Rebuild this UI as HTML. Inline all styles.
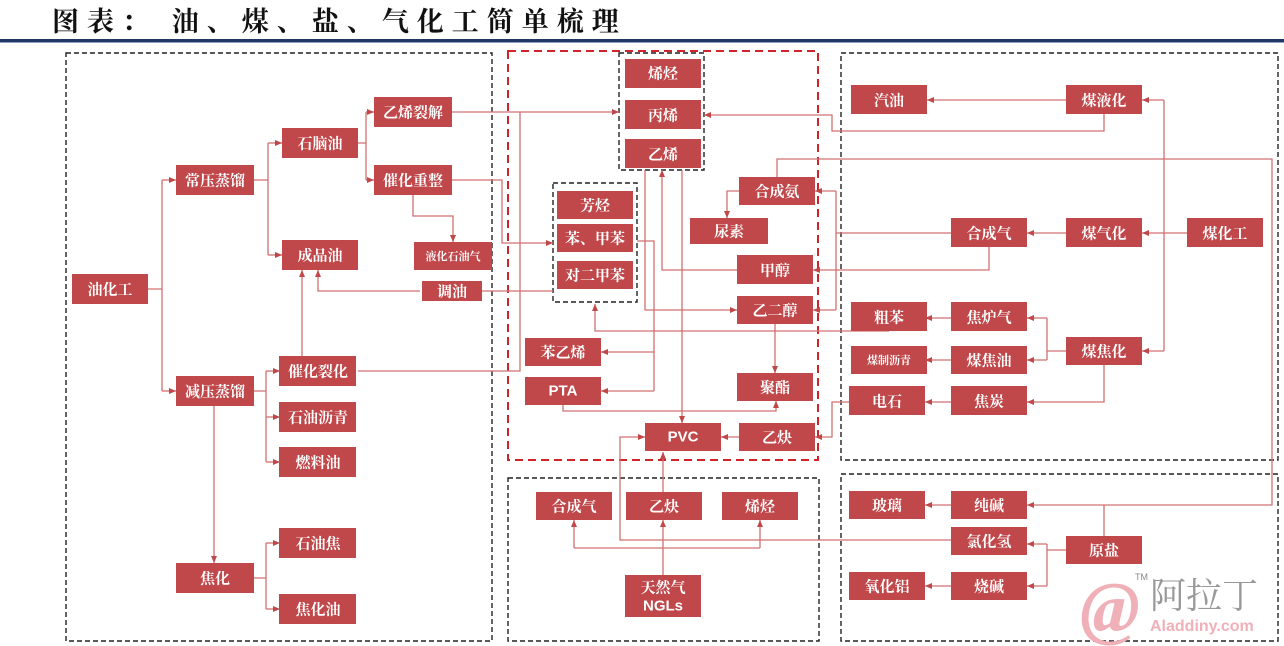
<!DOCTYPE html>
<html><head><meta charset="utf-8"><style>
body{margin:0;background:#fff;width:1284px;height:646px;overflow:hidden}
svg{display:block}
.b{fill:#c0474a}
.t{fill:#fff;font-family:"Noto Serif CJK SC","WenQuanYi Zen Hei",serif;font-weight:bold;font-size:15px;text-anchor:middle;dominant-baseline:central}
.l{fill:none;stroke:#d27070;stroke-width:1.3}
.a{fill:none;stroke:#d27070;stroke-width:1.3;marker-end:url(#ar)}
</style></head><body>
<svg width="1284" height="646" viewBox="0 0 1284 646">
<defs><marker id="ar" markerWidth="8" markerHeight="8" refX="7" refY="4" orient="auto" markerUnits="userSpaceOnUse"><path d="M0,1 L7,4 L0,7z" fill="#c0474a"/></marker></defs>
<text x="52" y="31" font-family="'Noto Serif CJK SC',serif" font-weight="bold" font-size="27" letter-spacing="8" fill="#111">图表： 油、煤、盐、气化工简单梳理</text>
<rect x="0" y="39" width="1284" height="3" fill="#1f3864"/>
<rect x="0" y="42" width="1284" height="1" fill="#8ea0c0"/>
<g fill="none" stroke="#222" stroke-width="1.4" stroke-dasharray="5,3">
<rect x="66" y="53" width="426" height="588"/>
<rect x="841" y="53" width="437" height="407"/>
<rect x="841" y="474" width="437" height="167"/>
<rect x="508" y="478" width="311" height="163"/>
<rect x="619" y="53" width="85" height="117"/>
<rect x="553" y="183" width="84" height="119"/>
</g>
<rect x="508" y="51" width="310" height="409" fill="none" stroke="#d0242a" stroke-width="2" stroke-dasharray="8,5"/>
<path class="l" d="M148,289 H162 M162,180 V391"/>
<path class="a" d="M162,180 H176"/><path class="a" d="M162,391 H176"/>
<path class="l" d="M254,180 H268 M268,143 V255"/>
<path class="a" d="M268,143 H282"/><path class="a" d="M268,255 H282"/>
<path class="l" d="M356,143 H366 M366,112 V180"/>
<path class="a" d="M366,112 H374"/><path class="a" d="M366,180 H374"/>
<path class="a" d="M452,112 H619"/>
<path class="a" d="M452,180 H502 V243 H553"/>
<path class="a" d="M413,195 V216 H453 V242"/>
<path class="a" d="M553,291 H482 M420,291 H318 V270"/>
<path class="a" d="M302,356 V270"/>
<path class="l" d="M358,371 H520 V112"/>
<path class="l" d="M254,391 H266 M266,371 V462"/>
<path class="a" d="M266,371 H280"/><path class="a" d="M266,417 H280"/><path class="a" d="M266,462 H280"/>
<path class="a" d="M214,406 V563"/>
<path class="l" d="M254,578 H266 M266,543 V609"/>
<path class="a" d="M266,543 H280"/><path class="a" d="M266,609 H280"/>
<path class="a" d="M645,170 V310 H737"/>
<path class="a" d="M737,270 H662 V170"/>
<path class="a" d="M682,170 V423"/>
<path class="l" d="M637,241 H654 V391"/>
<path class="a" d="M654,352 H601"/><path class="a" d="M654,391 H601"/>
<path class="a" d="M563,404 V411 H776 V401"/>
<path class="a" d="M775,323 V373"/>
<path class="a" d="M739,437 H721"/>
<path class="a" d="M777,177 V159 H1272 V505 H1027"/>
<path class="a" d="M739,191 H727 V218"/>
<path class="l" d="M951,233 H836 M836,191 V310"/>
<path class="a" d="M836,191 H815"/><path class="a" d="M836,310 H813"/>
<path class="a" d="M989,247 V270 H813"/>
<path class="a" d="M1066,233 H1027"/><path class="a" d="M1187,233 H1142"/>
<path class="l" d="M1164,100 V351"/>
<path class="a" d="M1164,100 H1142"/><path class="a" d="M1164,351 H1142"/>
<path class="a" d="M1066,100 H927"/>
<path class="a" d="M1104,114 V131 H832 V115 H704"/>
<path class="l" d="M1066,351 H1047 M1047,318 V360"/>
<path class="a" d="M1047,318 H1027"/><path class="a" d="M1047,360 H1027"/>
<path class="a" d="M951,318 H925"/><path class="a" d="M951,360 H925"/>
<path class="a" d="M889,331 H595 V304"/>
<path class="a" d="M1104,365 V402 H1027"/>
<path class="a" d="M951,402 H925"/>
<path class="a" d="M849,402 H832 V437 H815"/>
<path class="l" d="M1104,536 V505"/>
<path class="l" d="M1066,550 H1047 M1047,544 V586"/>
<path class="a" d="M1047,544 H1027"/><path class="a" d="M1047,586 H1027"/>
<path class="a" d="M951,505 H925"/><path class="a" d="M951,586 H925"/>
<path class="a" d="M951,540 H620 V437 H645"/>
<path class="a" d="M663,492 V452"/>
<path class="a" d="M663,575 V520"/>
<path class="l" d="M574,548 H760"/>
<path class="a" d="M574,548 V520"/><path class="a" d="M760,548 V520"/>
<g>
<rect class="b" x="72" y="274" width="76" height="30"/><text class="t" x="110" y="289">油化工</text>
<rect class="b" x="176" y="165" width="78" height="30"/><text class="t" x="215" y="180">常压蒸馏</text>
<rect class="b" x="176" y="376" width="78" height="30"/><text class="t" x="215" y="391">减压蒸馏</text>
<rect class="b" x="176" y="563" width="78" height="30"/><text class="t" x="215" y="578">焦化</text>
<rect class="b" x="282" y="128" width="76" height="30"/><text class="t" x="320" y="143">石脑油</text>
<rect class="b" x="282" y="240" width="76" height="30"/><text class="t" x="320" y="255">成品油</text>
<rect class="b" x="374" y="97" width="78" height="30"/><text class="t" x="413" y="112">乙烯裂解</text>
<rect class="b" x="374" y="165" width="78" height="30"/><text class="t" x="413" y="180">催化重整</text>
<rect class="b" x="414" y="242" width="78" height="28"/><text class="t" x="453" y="256" style="font-size:11px">液化石油气</text>
<rect class="b" x="422" y="281" width="60" height="20"/><text class="t" x="452" y="291">调油</text>
<rect class="b" x="279" y="356" width="77" height="30"/><text class="t" x="318" y="371">催化裂化</text>
<rect class="b" x="279" y="402" width="77" height="30"/><text class="t" x="318" y="417">石油沥青</text>
<rect class="b" x="279" y="447" width="77" height="30"/><text class="t" x="318" y="462">燃料油</text>
<rect class="b" x="279" y="528" width="77" height="30"/><text class="t" x="318" y="543">石油焦</text>
<rect class="b" x="279" y="594" width="77" height="30"/><text class="t" x="318" y="609">焦化油</text>
<rect class="b" x="625" y="59" width="76" height="29"/><text class="t" x="663" y="73">烯烃</text>
<rect class="b" x="625" y="100" width="76" height="29"/><text class="t" x="663" y="115">丙烯</text>
<rect class="b" x="625" y="139" width="76" height="29"/><text class="t" x="663" y="154">乙烯</text>
<rect class="b" x="557" y="191" width="76" height="28"/><text class="t" x="595" y="205">芳烃</text>
<rect class="b" x="557" y="224" width="76" height="28"/><text class="t" x="595" y="238">苯、甲苯</text>
<rect class="b" x="557" y="261" width="76" height="28"/><text class="t" x="595" y="275">对二甲苯</text>
<rect class="b" x="739" y="177" width="76" height="28"/><text class="t" x="777" y="191">合成氨</text>
<rect class="b" x="690" y="218" width="78" height="26"/><text class="t" x="729" y="231">尿素</text>
<rect class="b" x="737" y="255" width="76" height="29"/><text class="t" x="775" y="270">甲醇</text>
<rect class="b" x="737" y="296" width="76" height="28"/><text class="t" x="775" y="310">乙二醇</text>
<rect class="b" x="525" y="338" width="76" height="28"/><text class="t" x="563" y="352">苯乙烯</text>
<rect class="b" x="525" y="377" width="76" height="28"/><text class="t" x="563" y="391" style="font-family:'Liberation Sans',sans-serif">PTA</text>
<rect class="b" x="737" y="373" width="76" height="28"/><text class="t" x="775" y="387">聚酯</text>
<rect class="b" x="645" y="423" width="76" height="28"/><text class="t" x="683" y="437" style="font-family:'Liberation Sans',sans-serif">PVC</text>
<rect class="b" x="739" y="423" width="76" height="28"/><text class="t" x="777" y="437">乙炔</text>
<rect class="b" x="536" y="492" width="76" height="28"/><text class="t" x="574" y="506">合成气</text>
<rect class="b" x="626" y="492" width="76" height="28"/><text class="t" x="664" y="506">乙炔</text>
<rect class="b" x="722" y="492" width="76" height="28"/><text class="t" x="760" y="506">烯烃</text>
<rect class="b" x="625" y="575" width="76" height="42"/><text class="t" x="663" y="587">天然气</text><text class="t" x="663" y="606" style="font-family:'Liberation Sans',sans-serif">NGLs</text>
<rect class="b" x="851" y="85" width="76" height="29"/><text class="t" x="889" y="100">汽油</text>
<rect class="b" x="1066" y="85" width="76" height="29"/><text class="t" x="1104" y="100">煤液化</text>
<rect class="b" x="951" y="218" width="76" height="29"/><text class="t" x="989" y="233">合成气</text>
<rect class="b" x="1066" y="218" width="76" height="29"/><text class="t" x="1104" y="233">煤气化</text>
<rect class="b" x="1187" y="218" width="76" height="29"/><text class="t" x="1225" y="233">煤化工</text>
<rect class="b" x="851" y="302" width="76" height="29"/><text class="t" x="889" y="317">粗苯</text>
<rect class="b" x="951" y="302" width="76" height="29"/><text class="t" x="989" y="317">焦炉气</text>
<rect class="b" x="851" y="346" width="76" height="28"/><text class="t" x="889" y="360" style="font-size:11px">煤制沥青</text>
<rect class="b" x="951" y="346" width="76" height="28"/><text class="t" x="989" y="360">煤焦油</text>
<rect class="b" x="1066" y="337" width="76" height="28"/><text class="t" x="1104" y="351">煤焦化</text>
<rect class="b" x="849" y="386" width="76" height="29"/><text class="t" x="887" y="401">电石</text>
<rect class="b" x="951" y="386" width="76" height="29"/><text class="t" x="989" y="401">焦炭</text>
<rect class="b" x="849" y="491" width="76" height="28"/><text class="t" x="887" y="505">玻璃</text>
<rect class="b" x="951" y="491" width="76" height="28"/><text class="t" x="989" y="505">纯碱</text>
<rect class="b" x="951" y="527" width="76" height="28"/><text class="t" x="989" y="541">氯化氢</text>
<rect class="b" x="1066" y="536" width="76" height="28"/><text class="t" x="1104" y="550">原盐</text>
<rect class="b" x="849" y="572" width="76" height="28"/><text class="t" x="887" y="586">氧化铝</text>
<rect class="b" x="951" y="572" width="76" height="28"/><text class="t" x="989" y="586">烧碱</text>
</g>
<text x="1080" y="632" font-family="'Liberation Serif',serif" font-style="italic" font-weight="bold" font-size="72" fill="#f0b0b8">@</text>
<text x="1135" y="580" font-family="'Liberation Sans',sans-serif" font-size="9" fill="#888">TM</text>
<text x="1150" y="608" font-family="'Noto Serif CJK SC',serif" font-size="36" fill="#999">阿拉丁</text>
<text x="1150" y="631" font-family="'Liberation Sans',sans-serif" font-weight="bold" font-size="16" fill="#f0b0b8">Aladdiny.com</text>
</svg>
</body></html>
